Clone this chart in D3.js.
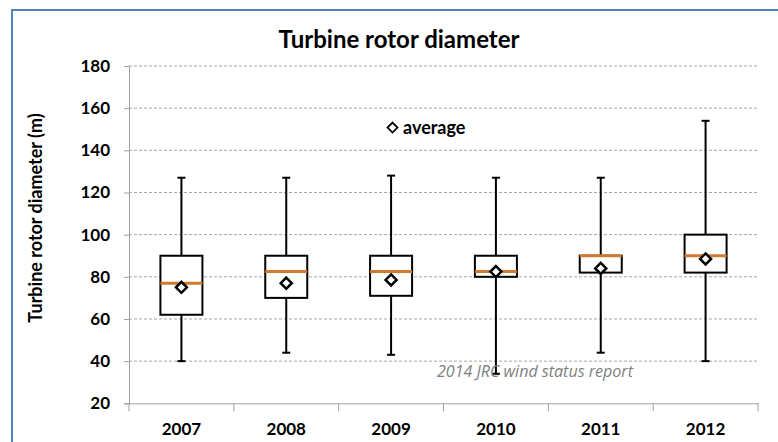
<!DOCTYPE html>
<html>
<head>
<meta charset="utf-8">
<script src="https://cdn.jsdelivr.net/npm/d3@7"></script>
<style>
  html, body { margin: 0; padding: 0; background: #fff; }
  svg { display: block; }
</style>
</head>
<body>
<script>
// ---- data ----
const years   = ["2007", "2008", "2009", "2010", "2011", "2012"];
const whiskLo = [40, 44, 43, 34, 44, 40];
const q1      = [62, 70, 71, 80, 82, 82];
const median  = [77, 82.5, 82.5, 82.5, 90, 90];
const q3      = [90, 90, 90, 90, 90, 100];
const whiskHi = [127, 127, 128, 127, 127, 154];
const average = [75, 77, 78.5, 82.5, 84, 88.5];
const yTicks  = [20, 40, 60, 80, 100, 120, 140, 160, 180];
const legendValue = 150.8;

const W = 778, H = 442;
const svg = d3.select("body").append("svg").attr("width", W).attr("height", H);

// frame
svg.append("rect").attr("x", 12).attr("y", 10).attr("width", 820).attr("height", 500)
  .attr("fill", "none").attr("stroke", "#4F81BD").attr("stroke-width", 2);

const pLeft = 129, pRight = 758, pTop = 66, pBottom = 403.3;
const x = d3.scaleBand().domain(years).range([pLeft, pRight]).padding(0);
const y = d3.scaleLinear().domain([20, 180]).range([pBottom, pTop]);

const FONT = "Lato, 'Open Sans', sans-serif";

// gridlines
svg.append("g").selectAll("line").data(yTicks.filter(d => d > 20)).join("line")
  .attr("x1", pLeft).attr("x2", pRight)
  .attr("y1", d => y(d)).attr("y2", d => y(d))
  .attr("stroke", "#a6a6a6").attr("stroke-width", 1).attr("stroke-dasharray", "3,2");

// y axis
const yAx = svg.append("g").attr("transform", `translate(${pLeft},0)`)
  .call(d3.axisLeft(y).tickValues(yTicks).tickSize(5).tickPadding(14).tickFormat(d3.format("d")));
yAx.select(".domain").attr("stroke", "#a0a0a0");
yAx.selectAll(".tick line").attr("stroke", "#a0a0a0");
yAx.selectAll("text").attr("font-family", FONT).attr("font-weight", "bold")
  .attr("font-size", 17).attr("fill", "#000");

// x axis
const xAx = svg.append("g").attr("transform", `translate(0,${pBottom})`)
  .call(d3.axisBottom(x).tickSize(0).tickPadding(20));
xAx.select(".domain").attr("stroke", "#a0a0a0");
xAx.selectAll("text").attr("font-family", FONT).attr("font-weight", "bold")
  .attr("font-size", 17).attr("fill", "#000");
const bounds = years.map(d => x(d)).concat([x(years[years.length - 1]) + x.bandwidth()]);
svg.append("g").selectAll("line").data(bounds).join("line")
  .attr("x1", d => d).attr("x2", d => d)
  .attr("y1", pBottom).attr("y2", pBottom + 8)
  .attr("stroke", "#a0a0a0");

// boxes
const bw = 42, cap = 8;
const g = svg.append("g");
years.forEach((yr, i) => {
  const cx = x(yr) + x.bandwidth() / 2;
  g.append("line").attr("x1", cx).attr("x2", cx).attr("y1", y(q3[i])).attr("y2", y(whiskHi[i]))
    .attr("stroke", "#000").attr("stroke-width", 2);
  g.append("line").attr("x1", cx).attr("x2", cx).attr("y1", y(q1[i])).attr("y2", y(whiskLo[i]))
    .attr("stroke", "#000").attr("stroke-width", 2);
  g.append("line").attr("x1", cx - cap / 2).attr("x2", cx + cap / 2)
    .attr("y1", y(whiskHi[i])).attr("y2", y(whiskHi[i])).attr("stroke", "#000").attr("stroke-width", 2);
  g.append("line").attr("x1", cx - cap / 2).attr("x2", cx + cap / 2)
    .attr("y1", y(whiskLo[i])).attr("y2", y(whiskLo[i])).attr("stroke", "#000").attr("stroke-width", 2);
  g.append("rect").attr("x", cx - bw / 2).attr("width", bw)
    .attr("y", y(q3[i])).attr("height", y(q1[i]) - y(q3[i]))
    .attr("fill", "#fff").attr("stroke", "#000").attr("stroke-width", 2);
  g.append("line").attr("x1", cx - bw / 2).attr("x2", cx + bw / 2)
    .attr("y1", y(median[i])).attr("y2", y(median[i]))
    .attr("stroke", "#D2792E").attr("stroke-width", 3);
});

// average diamonds
const diamond = (cx, cy, r) => `M${cx},${cy - r}L${cx + r},${cy}L${cx},${cy + r}L${cx - r},${cy}Z`;
g.selectAll("path.avg").data(years).join("path").attr("class", "avg")
  .attr("d", (d, i) => diamond(x(d) + x.bandwidth() / 2, y(average[i]), 5.5))
  .attr("fill", "#fff").attr("stroke", "#000").attr("stroke-width", 2.5);

// legend
svg.append("path").attr("d", diamond(392.5, y(legendValue), 5))
  .attr("fill", "#fff").attr("stroke", "#000").attr("stroke-width", 1.8);
svg.append("text").attr("x", 403).attr("y", y(legendValue) + 6)
  .attr("font-family", FONT).attr("font-weight", "bold").attr("font-size", 18)
  .attr("fill", "#000").text("average");

// title
svg.append("text").attr("x", 399).attr("y", 48).attr("text-anchor", "middle")
  .attr("font-family", FONT).attr("font-weight", "bold").attr("font-size", 24)
  .attr("fill", "#000").text("Turbine rotor diameter");

// y axis title
svg.append("text").attr("transform", "translate(42,218) rotate(-90)")
  .attr("text-anchor", "middle")
  .attr("font-family", FONT).attr("font-weight", "bold").attr("font-size", 18)
  .attr("fill", "#000").text("Turbine rotor diameter (m)");

// watermark
svg.append("text").attr("x", 437).attr("y", 377)
  .attr("font-family", "'Open Sans', sans-serif").attr("font-style", "italic")
  .attr("font-size", 16).attr("fill", "#808080")
  .attr("textLength", 196).attr("lengthAdjust", "spacingAndGlyphs")
  .text("2014 JRC wind status report");
</script>
</body>
</html>
